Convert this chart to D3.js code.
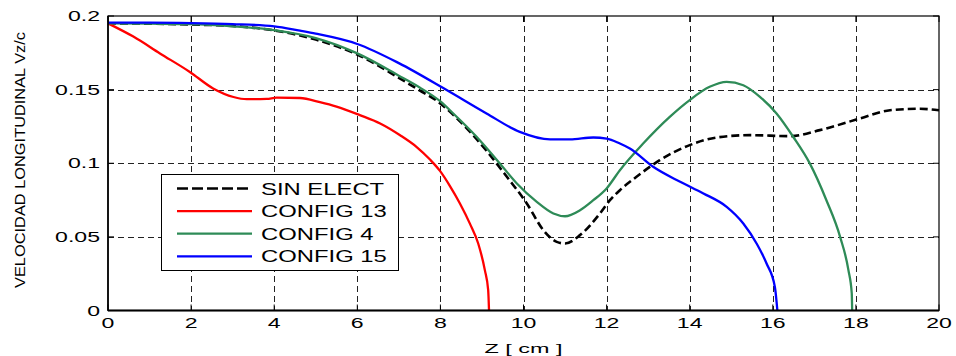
<!DOCTYPE html>
<html>
<head>
<meta charset="utf-8">
<script src="https://cdn.jsdelivr.net/npm/d3@7"></script>
<style>
  body { margin: 0; background: #fff; }
  text { font-family: "Liberation Sans", Arial, sans-serif; fill: #000; }
</style>
</head>
<body>
<div id="chart"></div>
<script>
// series data
var seriesNames = ["SIN ELECT", "CONFIG 13", "CONFIG 4", "CONFIG 15"];
var seriesColors = ["#000000", "#ff0000", "#2e8b57", "#0000ff"];

var zSin = [0, 1, 2, 3, 4, 5, 6, 7, 7.5, 7.91, 8.47, 9.11, 9.6, 10.08, 10.48, 10.8, 11.0, 11.36, 11.84, 12.08, 12.32, 12.72, 13.28, 14.0, 14.65, 15.45, 16.41, 17.13, 18.1, 18.82, 19.54, 20];
var vSin = [0.195, 0.1948, 0.1942, 0.1932, 0.1902, 0.184, 0.1738, 0.158, 0.1495, 0.1425, 0.1285, 0.1085, 0.0908, 0.0727, 0.0545, 0.0466, 0.0455, 0.0512, 0.0659, 0.0749, 0.0817, 0.0908, 0.1021, 0.1123, 0.1175, 0.1191, 0.1184, 0.1225, 0.1304, 0.136, 0.137, 0.136];

var zC13 = [0, 0.61, 1.25, 1.97, 2.53, 3.02, 3.34, 3.82, 4.06, 4.62, 5.1, 5.5, 6.06, 6.55, 7.03, 7.43, 7.75, 7.99, 8.23, 8.47, 8.71, 8.91, 9.07, 9.15, 9.17];
var vC13 = [0.195, 0.186, 0.1746, 0.162, 0.1508, 0.145, 0.1435, 0.1437, 0.1445, 0.1443, 0.1415, 0.1385, 0.1327, 0.127, 0.119, 0.111, 0.1025, 0.0948, 0.0845, 0.0727, 0.059, 0.0455, 0.0274, 0.0138, 0];

var zC4 = [0, 1, 2, 3, 4, 5, 6, 7, 7.5, 8, 8.31, 8.87, 9.43, 9.84, 10.32, 10.72, 11.0, 11.36, 11.68, 12.0, 12.32, 12.88, 13.52, 14.0, 14.48, 14.89, 15.29, 15.69, 16.09, 16.49, 16.89, 17.29, 17.62, 17.82, 17.9, 17.91];
var vC4 = [0.195, 0.1948, 0.1945, 0.193, 0.1904, 0.185, 0.1746, 0.1595, 0.1515, 0.142, 0.1338, 0.118, 0.0999, 0.0863, 0.0738, 0.0659, 0.064, 0.0681, 0.0749, 0.0829, 0.0953, 0.1134, 0.1315, 0.1429, 0.1519, 0.1553, 0.153, 0.1451, 0.1338, 0.118, 0.0999, 0.0749, 0.05, 0.0274, 0.0117, 0];

var zC15 = [0, 1, 2, 3, 4, 4.62, 5, 6, 7, 8.15, 9.11, 9.91, 10.64, 11.12, 11.68, 12.0, 12.32, 12.56, 13.12, 13.77, 14.33, 14.89, 15.29, 15.61, 15.85, 16.05, 16.11];
var vC15 = [0.1955, 0.1955, 0.1952, 0.1945, 0.193, 0.190, 0.188, 0.181, 0.168, 0.1497, 0.1338, 0.1213, 0.1162, 0.1162, 0.1175, 0.1168, 0.1134, 0.110, 0.0976, 0.0874, 0.0795, 0.0704, 0.0591, 0.0455, 0.0319, 0.016, 0];

var xTicks = [0, 2, 4, 6, 8, 10, 12, 14, 16, 18, 20];
var yTicks = [0, 0.05, 0.1, 0.15, 0.2];
var yTickLabels = ["0", "0.05", "0.1", "0.15", "0.2"];

var series = [
    {name: seriesNames[0], color: seriesColors[0], z: zSin, v: vSin, dash: "8,4", width: 2.6},
    {name: seriesNames[1], color: seriesColors[1], z: zC13, v: vC13, dash: null, width: 2.3},
    {name: seriesNames[2], color: seriesColors[2], z: zC4, v: vC4, dash: null, width: 2.3},
    {name: seriesNames[3], color: seriesColors[3], z: zC15, v: vC15, dash: null, width: 2.3}
];

var width = 956, height = 356;
var plotLeft = 108, plotRight = 939, plotTop = 16, plotBottom = 310.5;

var svg = d3.select("#chart").append("svg")
    .attr("width", width)
    .attr("height", height);

var x = d3.scaleLinear().domain([0, 20]).range([plotLeft, plotRight]);
var y = d3.scaleLinear().domain([0, 0.2]).range([plotBottom, plotTop]);

// stretched text, like the original export
function wideText(g, tx, ty, str, size, sx, anchor) {
    return g.append("text")
        .attr("transform", "translate(" + tx + "," + ty + ") scale(" + sx + ",1)")
        .attr("text-anchor", anchor)
        .style("font-size", size + "px")
        .text(str);
}

// grid
var grid = svg.append("g").attr("stroke", "#222").attr("stroke-width", 1).attr("stroke-dasharray", "6,4");
xTicks.slice(1, -1).forEach(function(t) {
    grid.append("line")
        .attr("x1", Math.round(x(t)) + 0.5).attr("x2", Math.round(x(t)) + 0.5)
        .attr("y1", plotTop).attr("y2", plotBottom);
});
yTicks.slice(1, -1).forEach(function(t) {
    grid.append("line")
        .attr("x1", plotLeft).attr("x2", plotRight)
        .attr("y1", Math.round(y(t)) + 0.5).attr("y2", Math.round(y(t)) + 0.5);
});

// curves
var line = d3.line()
    .x(function(d) { return x(d[0]); })
    .y(function(d) { return y(d[1]); })
    .curve(d3.curveMonotoneX);

series.forEach(function(s) {
    var pts = s.z.map(function(z, k) { return [z, s.v[k]]; });
    svg.append("path")
        .datum(pts)
        .attr("fill", "none")
        .attr("stroke", s.color)
        .attr("stroke-width", s.width)
        .attr("stroke-dasharray", s.dash)
        .attr("d", line);
});

// box
svg.append("rect")
    .attr("x", plotLeft).attr("y", plotTop)
    .attr("width", plotRight - plotLeft).attr("height", plotBottom - plotTop)
    .attr("fill", "none").attr("stroke", "#000").attr("stroke-width", 1.2);
svg.append("line")
    .attr("x1", plotLeft).attr("x2", plotRight).attr("y1", plotBottom).attr("y2", plotBottom)
    .attr("stroke", "#000").attr("stroke-width", 2);
svg.append("line")
    .attr("x1", plotLeft).attr("x2", plotLeft).attr("y1", plotTop).attr("y2", plotBottom)
    .attr("stroke", "#000").attr("stroke-width", 1.6);

// inner tick marks
var ticks = svg.append("g").attr("stroke", "#000").attr("stroke-width", 1);
xTicks.forEach(function(t) {
    ticks.append("line").attr("x1", x(t)).attr("x2", x(t)).attr("y1", plotBottom).attr("y2", plotBottom - 6);
    ticks.append("line").attr("x1", x(t)).attr("x2", x(t)).attr("y1", plotTop).attr("y2", plotTop + 6);
});
yTicks.forEach(function(t) {
    ticks.append("line").attr("x1", plotLeft).attr("x2", plotLeft + 6).attr("y1", y(t)).attr("y2", y(t));
    ticks.append("line").attr("x1", plotRight).attr("x2", plotRight - 6).attr("y1", y(t)).attr("y2", y(t));
});

// tick labels
var labels = svg.append("g");
xTicks.forEach(function(t) {
    wideText(labels, x(t), 328, String(t), 14, 1.65, "middle");
});
yTicks.forEach(function(t, i) {
    wideText(labels, 100, y(t) + 5, yTickLabels[i], 14, 1.65, "end");
});

// axis titles
wideText(svg, (plotLeft + plotRight) / 2, 353, "Z [ cm ]", 13, 1.8, "middle");
svg.append("text")
    .attr("transform", "translate(25,160) rotate(-90)")
    .attr("text-anchor", "middle")
    .attr("textLength", 256)
    .attr("lengthAdjust", "spacingAndGlyphs")
    .style("font-size", "14px")
    .text("VELOCIDAD LONGITUDINAL Vz/c");

// legend
var legend = svg.append("g");
legend.append("rect")
    .attr("x", 161.5).attr("y", 174.5).attr("width", 237).attr("height", 96)
    .attr("fill", "#fff").attr("stroke", "#000").attr("stroke-width", 1);
series.forEach(function(s, i) {
    var ly = 188.5 + i * 22.6;
    legend.append("line")
        .attr("x1", 177).attr("x2", 252).attr("y1", ly).attr("y2", ly)
        .attr("stroke", s.color)
        .attr("stroke-width", s.width)
        .attr("stroke-dasharray", s.dash ? "11,4" : null);
    wideText(legend, 261, ly + 6, s.name, 16, 1.49, "start");
});
</script>
</body>
</html>
